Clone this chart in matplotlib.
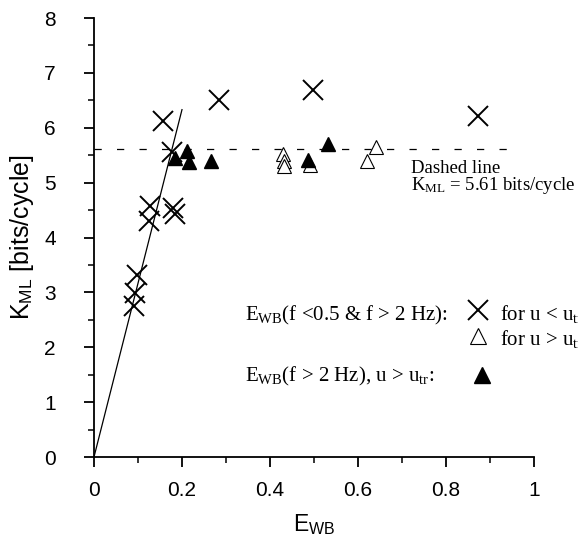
import matplotlib
matplotlib.use("Agg")
import matplotlib.pyplot as plt
from matplotlib.ticker import MultipleLocator

plt.rcParams['font.family'] = ['Liberation Sans', 'DejaVu Sans']
plt.rcParams['mathtext.fontset'] = 'custom'
plt.rcParams['mathtext.rm'] = 'Liberation Serif'
plt.rcParams['mathtext.it'] = 'Liberation Serif:italic'
plt.rcParams['mathtext.sf'] = 'Liberation Sans'

# E_WB (f<0.5 & f>2 Hz), u < u_tr
cross_x = [0.091, 0.093, 0.097, 0.124, 0.127, 0.180, 0.183, 0.157, 0.177, 0.284, 0.498, 0.873]
cross_y = [2.76, 2.98, 3.31, 4.30, 4.57, 4.53, 4.43, 6.12, 5.55, 6.50, 6.69, 6.22]

# E_WB (f<0.5 & f>2 Hz), u > u_tr
open_x = [0.430, 0.432, 0.432, 0.491, 0.620, 0.642]
open_y = [5.52, 5.40, 5.31, 5.33, 5.39, 5.65]

# E_WB (f>2 Hz), u > u_tr
fill_x = [0.184, 0.211, 0.217, 0.265, 0.487, 0.532]
fill_y = [5.45, 5.58, 5.38, 5.39, 5.42, 5.71]

k_ml = 5.61
fit_x = [0.0, 0.2]
fit_y = [0.0, 6.33]

fig = plt.figure(figsize=(5.78, 5.39), dpi=100)
ax = fig.add_axes([0.1626, 0.1521, 0.7613, 0.8145])

ax.plot(fit_x, fit_y, color='black', lw=0.9)
ax.hlines(k_ml, 0, 0.97, colors='black', lw=0.9, linestyles=(0, (5.8, 12.2)))

ax.plot(cross_x, cross_y, 'x', color='black', ms=14, mew=1.4, clip_on=False)
ax.plot(open_x, open_y, '^', mfc='white', mec='black', ms=10, mew=0.8, clip_on=False)
ax.plot(fill_x, fill_y, '^', color='black', ms=10, clip_on=False)

serif = ['Liberation Serif', 'DejaVu Serif']
ax.text(0.72, 5.18, 'Dashed line', family=serif, fontsize=13.5, clip_on=False)
ax.text(0.72, 4.86, r'K$_{\mathrm{ML}}$ = 5.61 bits/cycle', family=serif, fontsize=13.5, clip_on=False)

# key drawn inside the plot area (runs past the right edge of the figure)
ax.text(0.343, 2.49, r'E$_{\mathrm{WB}}$(f <0.5 & f > 2 Hz):', family=serif, fontsize=15, clip_on=False)
ax.plot([0.873], [2.67], 'x', color='black', ms=14, mew=1.4, clip_on=False)
ax.text(0.923, 2.49, r'for u < u$_{\mathrm{tr}}$', family=serif, fontsize=15, clip_on=False)
ax.plot([0.873], [2.20], '^', mfc='white', mec='black', ms=11, mew=0.8, clip_on=False)
ax.text(0.923, 2.04, r'for u > u$_{\mathrm{tr}}$', family=serif, fontsize=15, clip_on=False)
ax.text(0.343, 1.37, r'E$_{\mathrm{WB}}$(f > 2 Hz), u > u$_{\mathrm{tr}}$:', family=serif, fontsize=15, clip_on=False)
ax.plot([0.881], [1.49], '^', color='black', ms=11, clip_on=False)

ax.set_xlim(0, 1)
ax.set_ylim(0, 8)
ax.xaxis.set_minor_locator(MultipleLocator(0.1))
ax.yaxis.set_major_locator(MultipleLocator(1))
ax.yaxis.set_minor_locator(MultipleLocator(0.5))
ax.set_xticks([0, 0.2, 0.4, 0.6, 0.8, 1])
ax.set_xticklabels(['0', '0.2', '0.4', '0.6', '0.8', '1'])

ax.spines['top'].set_visible(False)
ax.spines['right'].set_visible(False)
for s in ['left', 'bottom']:
    ax.spines[s].set_linewidth(1.3)
ax.tick_params(which='major', direction='out', length=7.5, width=1.3, labelsize=15)
ax.tick_params(which='minor', direction='out', length=4, width=1.1)
ax.tick_params(axis='x', which='major', pad=10)
ax.tick_params(axis='y', which='major', pad=20)

ax.set_xlabel(r'E$_{\mathsf{WB}}$', fontsize=16.5, labelpad=9)
ax.set_ylabel(r'K$_{\mathsf{ML}}$ [bits/cycle]', fontsize=18, labelpad=6)

fig.savefig('out.png', dpi=100)
